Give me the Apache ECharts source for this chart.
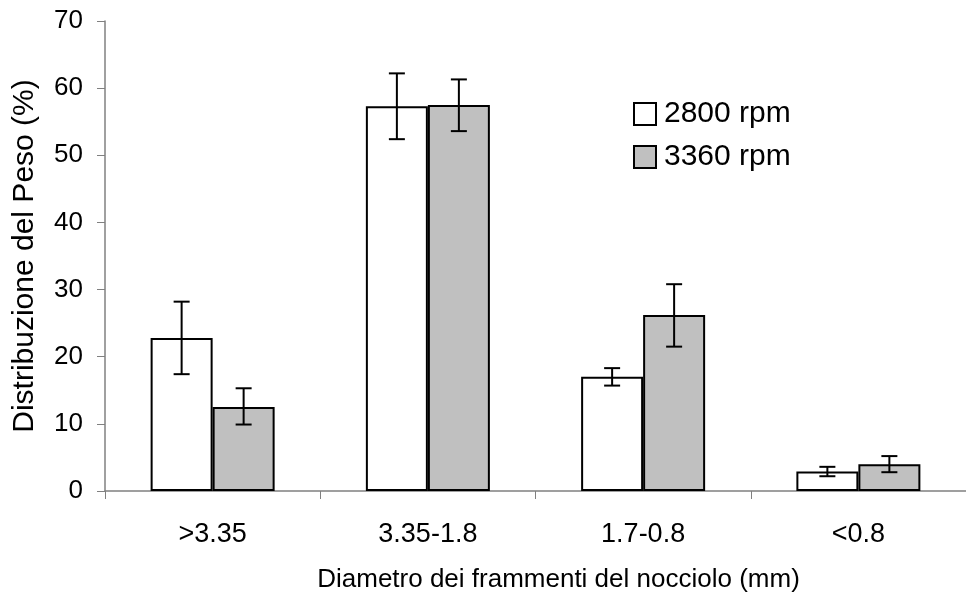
<!DOCTYPE html>
<html>
<head>
<meta charset="utf-8">
<script src="https://cdn.jsdelivr.net/npm/echarts@6/dist/echarts.min.js"></script>
<style>
  html, body { margin: 0; padding: 0; background: #fff; }
  #chart { width: 966px; height: 604px; }
</style>
</head>
<body>
<div id="chart"></div>
<script>
  // dati
  const categories = ['>3.35', '3.35-1.8', '1.7-0.8', '<0.8']
  const seriesNames = ['2800 rpm', '3360 rpm']
  const mean2800 = [22.8, 57.3, 17.0, 2.9]
  const low2800 = [17.4, 52.4, 15.7, 2.2]
  const high2800 = [28.2, 62.2, 18.3, 3.6]
  const mean3360 = [12.5, 57.5, 26.2, 4.0]
  const low3360 = [9.9, 53.6, 21.5, 2.8]
  const high3360 = [15.3, 61.3, 30.8, 5.2]

  const FONT = 'Liberation Sans, Arial, sans-serif'
  const BAR_W = 62

  const chart = echarts.init(document.getElementById('chart'))

  function errorSeries(name, low, high, offset) {
    return {
      name: name,
      type: 'custom',
      z: 10,
      silent: true,
      data: categories.map((c, i) => [i, low[i], high[i]]),
      renderItem: function (params, api) {
        const lo = api.coord([api.value(0), api.value(1)])
        const hi = api.coord([api.value(0), api.value(2)])
        const x = lo[0] + offset
        const cap = 8
        const style = { stroke: '#000', lineWidth: 2 }
        return {
          type: 'group',
          children: [
            { type: 'line', shape: { x1: x, y1: hi[1], x2: x, y2: lo[1] }, style: style },
            { type: 'line', shape: { x1: x - cap, y1: hi[1], x2: x + cap, y2: hi[1] }, style: style },
            { type: 'line', shape: { x1: x - cap, y1: lo[1], x2: x + cap, y2: lo[1] }, style: style }
          ]
        }
      }
    }
  }

  chart.setOption({
    animation: false,
    textStyle: { fontFamily: FONT },
    grid: {
      left: 105,
      right: -10,
      top: 21,
      bottom: 113
    },
    legend: {
      data: seriesNames,
      orient: 'vertical',
      left: 633,
      top: 99,
      padding: 0,
      itemWidth: 22,
      itemHeight: 22,
      itemGap: 13,
      icon: 'rect',
      textStyle: { fontSize: 30, color: '#000', fontFamily: FONT, padding: [0, 0, 0, 3] }
    },
    xAxis: {
      type: 'category',
      data: categories,
      name: 'Diametro dei frammenti del nocciolo (mm)',
      nameLocation: 'middle',
      nameGap: 76,
      nameTextStyle: { fontSize: 26, color: '#000', fontFamily: FONT, padding: [0, 0, 0, 46] },
      axisLine: { lineStyle: { color: '#808080', width: 1.5 } },
      axisTick: { show: true, length: 8, lineStyle: { color: '#808080' } },
      axisLabel: { fontSize: 27, color: '#000', margin: 30, fontFamily: FONT }
    },
    yAxis: {
      type: 'value',
      min: 0,
      max: 70,
      interval: 10,
      name: 'Distribuzione del Peso (%)',
      nameLocation: 'middle',
      nameGap: 65,
      nameTextStyle: { fontSize: 30, color: '#000', fontFamily: FONT },
      splitLine: { show: false },
      axisLine: { show: true, lineStyle: { color: '#808080', width: 1.5 } },
      axisTick: { show: true, length: 8, lineStyle: { color: '#808080' } },
      axisLabel: { fontSize: 26, color: '#000', margin: 22, fontFamily: FONT }
    },
    series: [
      {
        name: seriesNames[0],
        type: 'bar',
        data: mean2800,
        barWidth: BAR_W,
        barGap: '0%',
        itemStyle: { color: '#ffffff', borderColor: '#000', borderWidth: 2 }
      },
      {
        name: seriesNames[1],
        type: 'bar',
        data: mean3360,
        barWidth: BAR_W,
        barGap: '0%',
        itemStyle: { color: '#c0c0c0', borderColor: '#000', borderWidth: 2 }
      },
      errorSeries('err2800', low2800, high2800, -BAR_W / 2),
      errorSeries('err3360', low3360, high3360, BAR_W / 2)
    ]
  })
</script>
</body>
</html>
